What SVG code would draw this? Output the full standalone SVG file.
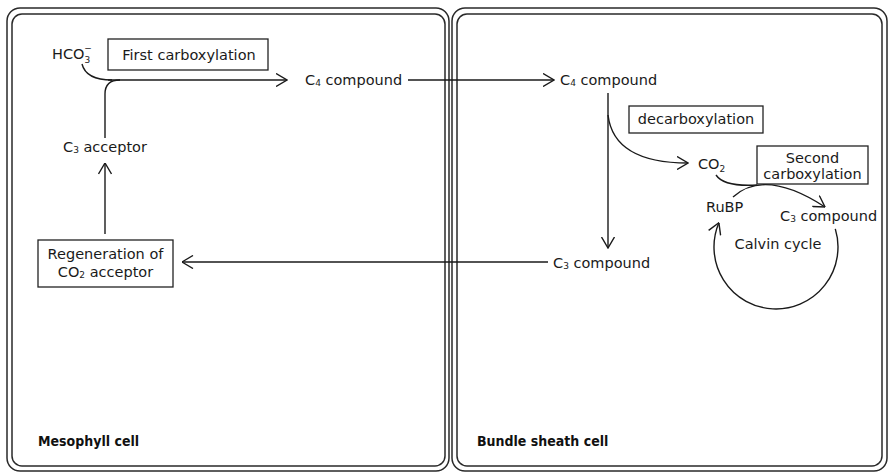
<svg xmlns="http://www.w3.org/2000/svg" width="889" height="473" viewBox="0 0 889 473">
<style>
  .cell{fill:none;stroke:#2a2a2a;stroke-width:1.5}
  .box{fill:#fff;stroke:#222;stroke-width:1.3}
  .t{font-family:"DejaVu Sans","Verdana",sans-serif;font-size:14.5px;fill:#1a1a1a}
  .c{text-anchor:middle}
  .sub{font-size:9px}
  .lbl{font-family:"DejaVu Sans Condensed","DejaVu Sans",sans-serif;font-stretch:condensed;font-weight:bold;font-size:14px;fill:#111}
  .ln{fill:none;stroke:#1a1a1a;stroke-width:1.4}
  .ar{marker-end:url(#arr)}
</style>
<defs>
  <marker id="arr" viewBox="0 0 12 14" refX="11.5" refY="7" markerWidth="12" markerHeight="14" markerUnits="userSpaceOnUse" orient="auto">
    <path d="M0.5,0.5 L11.5,7 L0.5,13.5" fill="none" stroke="#1a1a1a" stroke-width="1.4"/>
  </marker>
</defs>

<g id="mesophyll-cell">
  <rect class="cell" x="7" y="8" width="442" height="463" rx="13"/>
  <rect class="cell" x="12" y="14" width="433" height="452" rx="10"/>
  <text class="lbl" x="38" y="446">Mesophyll cell</text>
</g>
<g id="bundle-sheath-cell">
  <rect class="cell" x="452" y="8" width="435" height="463" rx="13"/>
  <rect class="cell" x="457" y="14" width="425" height="452" rx="10"/>
  <text class="lbl" x="477" y="446">Bundle sheath cell</text>
</g>

<g id="connectors">
  <path class="ln ar" d="M108,80 L287,80"/>
  <path class="ln" d="M82,64 Q86,80 112,80"/>
  <path class="ln" d="M105,138 L105,94 Q105,80 120,80"/>
  <path class="ln ar" d="M408,80 L554,80"/>
  <path class="ln ar" d="M105,234 L105,163"/>
  <path class="ln ar" d="M548,262 L182,262"/>
  <path class="ln ar" d="M608,93 L608,248"/>
  <path class="ln ar" d="M608,115 C612,148 640,163 688,163"/>
  <path class="ln" d="M716,175 Q724,187 757,185"/>
  <path class="ln ar" d="M733,197 Q765,168 825,207"/>
  <path class="ln ar" d="M835.3,228.9 A62,62 0 1 1 718.9,222.8"/>
</g>

<g id="hco3">
  <text class="t" x="52" y="59">HCO<tspan class="sub" dy="4">3</tspan><tspan class="sub" dx="-6" dy="-12">−</tspan></text>
</g>
<g id="first-carboxylation">
  <rect class="box" x="108" y="39" width="160" height="31"/>
  <text class="t c" x="189" y="60">First carboxylation</text>
</g>
<g id="c4-compound-meso">
  <text class="t" x="305" y="85">C<tspan class="sub" dy="1">4</tspan><tspan dy="-1"> compound</tspan></text>
</g>
<g id="c3-acceptor">
  <text class="t" x="63" y="152">C<tspan class="sub" dy="1">3</tspan><tspan dy="-1"> acceptor</tspan></text>
</g>
<g id="regeneration">
  <rect class="box" x="38" y="240" width="135" height="47"/>
  <text class="t c" x="105.5" y="259">Regeneration of</text>
  <text class="t c" x="105.5" y="277">CO<tspan class="sub" dy="1">2</tspan><tspan dy="-1"> acceptor</tspan></text>
</g>
<g id="c4-compound-bs">
  <text class="t" x="560" y="85">C<tspan class="sub" dy="1">4</tspan><tspan dy="-1"> compound</tspan></text>
</g>
<g id="decarboxylation">
  <rect class="box" x="629" y="106" width="134" height="27"/>
  <text class="t c" x="696" y="124">decarboxylation</text>
</g>
<g id="co2">
  <text class="t" x="698" y="169">CO<tspan class="sub" dy="3">2</tspan></text>
</g>
<g id="second-carboxylation">
  <rect class="box" x="757" y="146" width="111" height="38"/>
  <text class="t c" x="812.5" y="163">Second</text>
  <text class="t c" x="812.5" y="179">carboxylation</text>
</g>
<g id="rubp">
  <text class="t" x="706" y="212">RuBP</text>
</g>
<g id="c3-compound-calvin">
  <text class="t" x="780" y="221">C<tspan class="sub" dy="1">3</tspan><tspan dy="-1"> compound</tspan></text>
</g>
<g id="calvin-cycle">
  <text class="t c" x="778" y="249">Calvin cycle</text>
</g>
<g id="c3-compound-bs">
  <text class="t" x="553" y="268">C<tspan class="sub" dy="1">3</tspan><tspan dy="-1"> compound</tspan></text>
</g>
</svg>
